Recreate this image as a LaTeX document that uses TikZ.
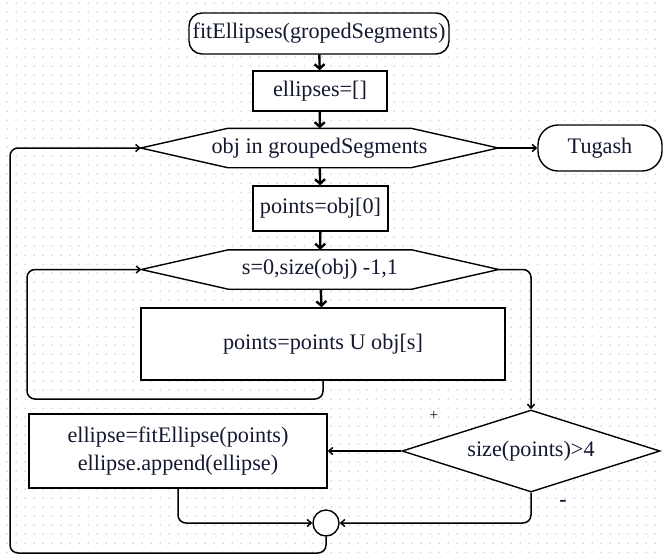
\documentclass[tikz,border=0pt]{standalone}
\usepackage{fontspec}
\setmainfont{Liberation Serif}
\usetikzlibrary{arrows.meta,shapes.geometric,backgrounds}
\definecolor{gridgrey}{RGB}{222,224,232}
\definecolor{textblue}{RGB}{20,24,48}
\tikzset{
  every node/.style={text=textblue,font=\fontsize{22.2}{28}\selectfont},
  box/.style={draw,line width=1.4pt,fill=white,inner sep=0pt},
  term/.style={box,rounded corners=13pt},
  loophex/.style={inner sep=0pt,minimum width=357pt,minimum height=39pt},
  hexline/.style={line width=1.4pt,fill=white},
  down/.style={line width=2.4pt,-{Straight Barb[length=4.5pt,width=10pt]}},
  flow/.style={line width=1.5pt,rounded corners=8pt,-{Straight Barb[length=4pt,width=7pt]}},
  gridmark/.style={gridgrey,line width=0.6pt}
}
\newcommand{\hexoutline}[1]{%
  \draw[hexline] (#1.west) -- ([xshift=87pt]#1.north west) -- ([xshift=-87pt]#1.north east)
    -- (#1.east) -- ([xshift=-87pt]#1.south east) -- ([xshift=87pt]#1.south west) -- cycle;}
\begin{document}
\begin{tikzpicture}[x=1pt,y=-1pt]
\useasboundingbox (0,0) rectangle (663,555);
\begin{scope}[on background layer]
\draw[gridmark] foreach \gx in {7,16,...,662} {foreach \gy in {3,12,...,554}
  {(\gx-1.3,\gy) -- ++(2.6,0) (\gx,\gy-1.3) -- ++(0,2.6)}};
\end{scope}
\node[term,minimum width=260pt,minimum height=41pt] (start) at (319,33.5) {fitEllipses(gropedSegments)};
\node[box,minimum width=134pt,minimum height=40pt] (init) at (320,91) {ellipses=[]};
\node[loophex] (loop1) at (319.5,148) {obj in groupedSegments};
\node[term,rounded corners=20pt,minimum width=124pt,minimum height=46pt] (tugash) at (600,148) {Tugash};
\node[box,minimum width=135pt,minimum height=45pt] (pts0) at (320.5,208.5) {points=obj[0]};
\node[loophex] (loop2) at (320,269.5) {s=0,size(obj) -1,1};
\node[box,minimum width=364pt,minimum height=72pt] (union) at (323,344) {points=points U obj[s]};
\node[box,diamond,aspect=3.1,minimum width=258pt,minimum height=82pt] (cond) at (531,451) {size(points)>4};
\node[box,align=center,minimum width=298pt,minimum height=74pt] (fit) at (178,451)
  {ellipse=fitEllipse(points)\\ellipse.append(ellipse)};
\node[box,circle,minimum size=26pt] (join) at (326,523) {};
\node[font=\fontsize{16}{16}\selectfont] (plus) at (434,416) {+};
\node[font=\fontsize{22}{22}\selectfont\bfseries] (minus) at (563,503) {-};
\begin{scope}[on background layer]
\hexoutline{loop1}
\hexoutline{loop2}
\end{scope}
\draw[down] (start) -- (init);
\draw[down] (init) -- (loop1);
\draw[flow] (loop1.east) -- (tugash);
\draw[down] (loop1) -- (pts0);
\draw[down] (pts0) -- (loop2);
\draw[down] (loop2) -- (union);
\draw[flow] (union.south) |- (27,399) |- (loop2.west);
\draw[flow] (loop2.east) -| (cond.north);
\draw[flow] (cond.west) -- (fit.east);
\draw[flow] (fit.south) |- (join.west);
\draw[flow] (cond.south) |- (join.east);
\draw[flow] (join.south) |- (10,553) |- (loop1.west);
\end{tikzpicture}
\end{document}
